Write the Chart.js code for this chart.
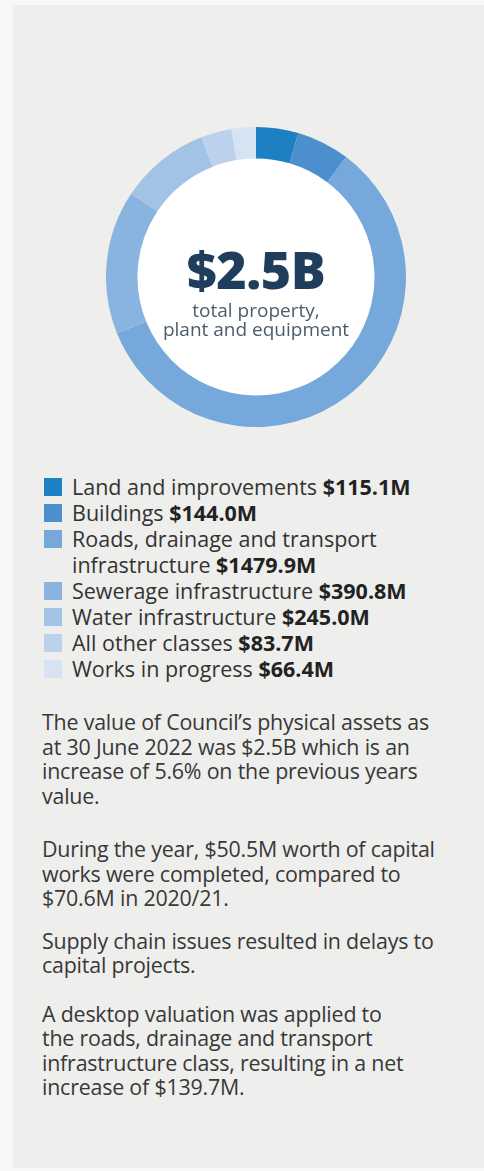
<!DOCTYPE html>
<html>
<head>
<meta charset="utf-8">
<script src="https://cdn.jsdelivr.net/npm/chart.js@4.4.0/dist/chart.umd.min.js"></script>
<style>
  html, body { margin: 0; padding: 0; background: #f7f7f6; }
  body { width: 484px; height: 1171px; position: relative; overflow: hidden; font-family: 'Open Sans', sans-serif; }
  #panel { position: absolute; left: 13px; top: 5px; width: 471px; height: 1163px; background: #eeeeec; }
  #chartBox { position: absolute; left: 106px; top: 127px; width: 300px; height: 300px; }
  #centre { position: absolute; left: 106px; top: 127px; width: 300px; height: 300px; text-align: center; pointer-events: none; }
  #centre .big { position: absolute; left: 0; right: 0; top: 112px; font-size: 52px; font-weight: 800; color: #1f3e5d; line-height: 60px; letter-spacing: -0.5px; }
  #centre .small { position: absolute; left: 0; right: 0; font-size: 19px; color: #4d5c6b; line-height: 19px; }
  #legend { position: absolute; left: 44px; top: 474px; width: 430px; }
  .item { position: relative; padding-left: 28px; font-size: 21.5px; line-height: 26px; color: #333; }
  .item .sw { position: absolute; left: 0; top: 4px; width: 18px; height: 18px; }
  .item b { color: #222; }
  #notes { position: absolute; left: 42px; top: 710px; font-size: 21.4px; line-height: 24.5px; color: #383838; white-space: nowrap; letter-spacing: -0.2px; }
  #notes p { margin: 0 0 21px 0; }
  #notes p.p1 { margin-bottom: 29px; }
  #notes p.p2 { margin-bottom: 18px; }
  #notes p.p3 { margin-bottom: 24px; }
</style>
</head>
<body>
<div id="panel"></div>
<div id="chartBox"><canvas id="donut"></canvas></div>
<div id="centre">
  <div class="big">$2.5B</div>
  <div class="small" style="top:174px">total property,</div>
  <div class="small" style="top:193px">plant and equipment</div>
</div>
<div id="legend"></div>
<div id="notes">
  <p class="p1">The value of Council’s physical assets as<br>at 30 June 2022 was $2.5B which is an<br>increase of 5.6% on the previous years<br>value.</p>
  <p class="p2">During the year, $50.5M worth of capital<br>works were completed, compared to<br>$70.6M in 2020/21.</p>
  <p class="p3">Supply chain issues resulted in delays to<br>capital projects.</p>
  <p>A desktop valuation was applied to<br>the roads, drainage and transport<br>infrastructure class, resulting in a net<br>increase of $139.7M.</p>
</div>
<script>
const categories = [
    'Land and improvements',
    'Buildings',
    'Roads, drainage and transport infrastructure',
    'Sewerage infrastructure',
    'Water infrastructure',
    'All other classes',
    'Works in progress'
];
const valuesM = [115.1, 144.0, 1479.9, 390.8, 245.0, 83.7, 66.4];
const sliceColors = ['#1c80c2', '#4b8fcd', '#76a8dc', '#8ab4e0', '#a2c2e6', '#bbd1ec', '#d5e3f3'];

// legend built from the same arrays as the chart
const legendEl = document.getElementById('legend');
categories.forEach((name, i) => {
    const row = document.createElement('div');
    row.className = 'item';
    let label = name;
    if (i === 2) label = 'Roads, drainage and transport<br>infrastructure'; // wraps like the print layout
    row.innerHTML = '<span class="sw" style="background:' + sliceColors[i] + '"></span>' +
        label + ' <b>$' + valuesM[i].toFixed(1) + 'M</b>';
    legendEl.appendChild(row);
});

new Chart(document.getElementById('donut').getContext('2d'), {
    type: 'doughnut',
    data: {
        labels: categories,
        datasets: [{
            data: valuesM,
            backgroundColor: sliceColors,
            borderWidth: 0
        }]
    },
    options: {
        responsive: true,
        maintainAspectRatio: false,
        animation: false,
        cutout: '79%',
        layout: { padding: 0 },
        plugins: {
            legend: { display: false },
            tooltip: { enabled: false }
        }
    },
    plugins: [{
        // white disc behind the centre label
        id: 'centreFill',
        beforeDatasetsDraw(chart) {
            const arc = chart.getDatasetMeta(0).data[0];
            if (!arc) return;
            const ctx = chart.ctx;
            ctx.save();
            ctx.fillStyle = '#ffffff';
            ctx.beginPath();
            ctx.arc(arc.x, arc.y, arc.innerRadius + 1, 0, Math.PI * 2);
            ctx.fill();
            ctx.restore();
        }
    }]
});
</script>
</body>
</html>
